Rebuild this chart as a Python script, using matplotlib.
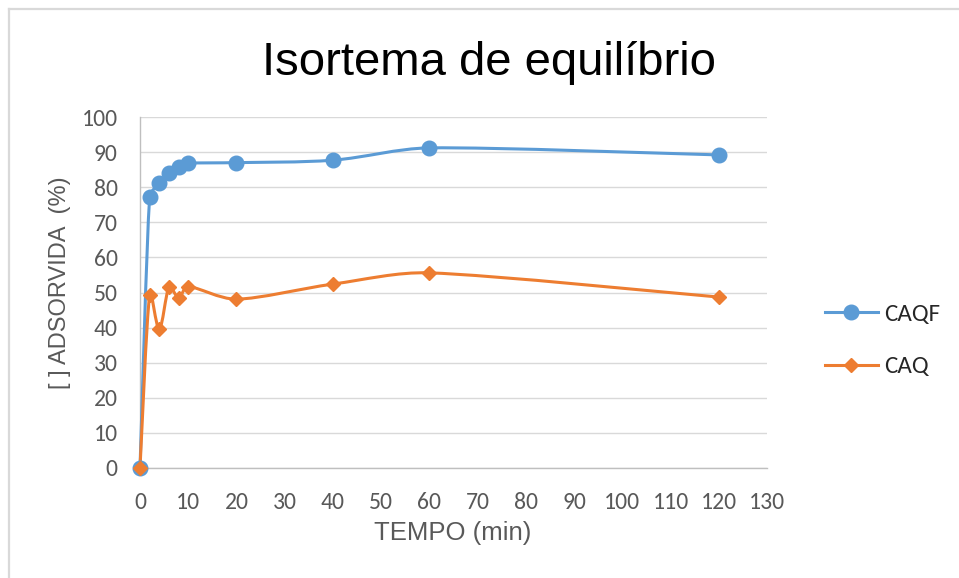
import matplotlib
matplotlib.use('Agg')
import matplotlib.pyplot as plt
from matplotlib import font_manager
from matplotlib.lines import Line2D
from matplotlib.path import Path
from matplotlib.patches import PathPatch

# tempo (min) e percentagem adsorvida
tempo = [0, 2, 4, 6, 8, 10, 20, 40, 60, 120]
caqf = [0, 77.1, 81.3, 84.1, 85.8, 86.8, 87.0, 87.7, 91.2, 89.2]
caq = [0, 49.3, 39.5, 51.5, 48.5, 51.7, 48.1, 52.4, 55.6, 48.7]

series_names = ['CAQF', 'CAQ']
x_ticks = list(range(0, 140, 10))
y_ticks = list(range(0, 110, 10))

BLUE = '#5B9BD5'
ORANGE = '#ED7D31'
GRID = '#D9D9D9'
TICK_COLOR = '#595959'

names = {f.name for f in font_manager.fontManager.ttflist}
body_font = 'Carlito' if 'Carlito' in names else 'Open Sans'
arial = 'Liberation Sans'


def smooth_path(ax, xs, ys):
    # smoothed line like Excel: bezier segments with (next - prev) / 6
    # tangents, capped by the on-screen length of the segment
    pts = list(zip(xs, ys))
    scr = [tuple(p) for p in ax.transData.transform(pts)]
    inv = ax.transData.inverted()
    n = len(pts)

    def handle(i, seg):
        a = scr[max(i - 1, 0)]
        b = scr[min(i + 1, n - 1)]
        vx, vy = (b[0] - a[0]) / 6, (b[1] - a[1]) / 6
        ln = (vx * vx + vy * vy) ** 0.5
        if ln > seg / 3:
            vx, vy = vx * seg / 3 / ln, vy * seg / 3 / ln
        return vx, vy

    verts = [pts[0]]
    codes = [Path.MOVETO]
    for i in range(n - 1):
        p1, p2 = scr[i], scr[i + 1]
        seg = ((p2[0] - p1[0]) ** 2 + (p2[1] - p1[1]) ** 2) ** 0.5
        h1, h2 = handle(i, seg), handle(i + 1, seg)
        c1 = (p1[0] + h1[0], p1[1] + h1[1])
        c2 = (p2[0] - h2[0], p2[1] - h2[1])
        verts += [tuple(inv.transform(c1)), tuple(inv.transform(c2)), pts[i + 1]]
        codes += [Path.CURVE4] * 3
    return Path(verts, codes)


fig = plt.figure(figsize=(9.59, 5.78), dpi=100)
ax = fig.add_axes([140 / 959, 1 - 468 / 578, 627 / 959, 351 / 578])
ax.set_xlim(0, 130)
ax.set_ylim(0, 100)

for ys, color, marker, ms in [(caqf, BLUE, 'o', 10.5), (caq, ORANGE, 'D', 7)]:
    ax.add_patch(PathPatch(smooth_path(ax, tempo, ys), facecolor='none',
                           edgecolor=color, lw=2.2, zorder=3, clip_on=False))
    ax.plot(tempo, ys, linestyle='none', marker=marker, ms=ms, color=color,
            zorder=4, clip_on=False)

ax.set_xticks(x_ticks)
ax.set_yticks(y_ticks)
ax.tick_params(length=0, labelsize=17, colors=TICK_COLOR)
ax.tick_params(axis='y', pad=16)
ax.tick_params(axis='x', pad=17)
for lbl in ax.get_xticklabels() + ax.get_yticklabels():
    lbl.set_family(body_font)

ax.grid(axis='y', color=GRID, lw=1)
ax.set_axisbelow(True)
for side in ['top', 'right']:
    ax.spines[side].set_visible(False)
for side in ['left', 'bottom']:
    ax.spines[side].set_color('#BFBFBF')
    ax.spines[side].set_linewidth(1)

fig.text(489 / 959, 1 - 75 / 578, 'Isortema de equilíbrio', ha='center',
         va='baseline', fontsize=34, family=arial, color='black')
fig.text(453 / 959, 1 - 540 / 578, 'TEMPO (min)', ha='center', va='baseline',
         fontsize=18.5, family=arial, color=TICK_COLOR)
fig.text(60 / 959, 1 - 283 / 578, '[ ] ADSORVIDA  (%)', ha='center',
         va='center', rotation=90, fontsize=17, family=arial, color=TICK_COLOR)

handles = [
    Line2D([], [], color=BLUE, lw=2.2, marker='o', ms=10.5),
    Line2D([], [], color=ORANGE, lw=2.2, marker='D', ms=7),
]
leg = fig.legend(handles, series_names, loc='upper left',
                 bbox_to_anchor=(825 / 959, 1 - 303 / 578), frameon=False,
                 borderpad=0, borderaxespad=0, handlelength=2.1,
                 handletextpad=0.25, labelspacing=1.25,
                 prop={'family': body_font, 'size': 18})
for t in leg.get_texts():
    t.set_color('#262626')

# chart frame
fig.add_artist(Line2D([9 / 959, 1], [1 - 9 / 578, 1 - 9 / 578],
                      color=GRID, lw=1.6, transform=fig.transFigure))
fig.add_artist(Line2D([9 / 959, 9 / 959], [0, 1 - 9 / 578],
                      color=GRID, lw=1.6, transform=fig.transFigure))

fig.savefig('out.png', dpi=100, facecolor='white')
